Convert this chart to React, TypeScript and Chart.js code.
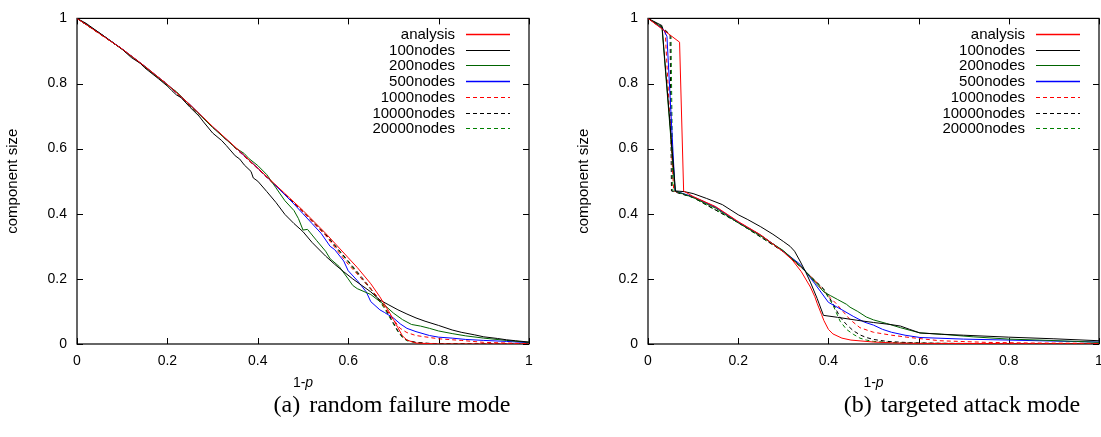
import React, { useEffect, useRef } from "react";
import { Chart, registerables } from "chart.js";

Chart.register(...registerables);

const FONT = '"Liberation Sans", Arial, Helvetica, sans-serif';

const xTickValues = [0, 0.2, 0.4, 0.6, 0.8, 1];
const yTickValues = [0, 0.2, 0.4, 0.6, 0.8, 1];
const xTitleMain = "1-";
const xTitleItalic = "p";
const yTitle = "component size";
const captionA = ["(a)", "random failure mode"];
const captionB = ["(b)", "targeted attack mode"];

const seriesNames = ["analysis", "100nodes", "200nodes", "500nodes", "1000nodes", "10000nodes", "20000nodes"];
const seriesColors = ["#ff0000", "#000000", "#006400", "#0000ff", "#ff0000", "#000000", "#008000"];
const seriesDashed = [false, false, false, false, true, true, true];

// (a) random failure mode
const randAnalysis = [[0,1],[0.05,0.953],[0.1,0.906],[0.15,0.853],[0.2,0.797],[0.25,0.735],[0.3,0.668],[0.35,0.605],[0.4,0.54],[0.45,0.475],[0.5,0.41],[0.55,0.34],[0.6,0.265],[0.62,0.235],[0.65,0.185],[0.67,0.145],[0.69,0.1],[0.7,0.075],[0.71,0.05],[0.72,0.025],[0.73,0.012],[0.75,0.003],[0.8,0],[1,0]];
const rand100 = [[0,1],[0.02,0.985],[0.05,0.955],[0.08,0.925],[0.1,0.905],[0.12,0.88],[0.14,0.862],[0.15,0.848],[0.18,0.815],[0.2,0.792],[0.21,0.778],[0.22,0.765],[0.23,0.757],[0.25,0.727],[0.27,0.7],[0.28,0.682],[0.3,0.648],[0.32,0.625],[0.33,0.61],[0.35,0.578],[0.36,0.568],[0.37,0.55],[0.385,0.53],[0.39,0.51],[0.4,0.5],[0.42,0.468],[0.44,0.435],[0.46,0.398],[0.48,0.37],[0.5,0.345],[0.52,0.312],[0.55,0.27],[0.57,0.245],[0.59,0.222],[0.61,0.2],[0.63,0.18],[0.65,0.16],[0.67,0.135],[0.69,0.12],[0.71,0.105],[0.73,0.092],[0.75,0.08],[0.77,0.07],[0.8,0.057],[0.83,0.043],[0.85,0.036],[0.88,0.028],[0.9,0.022],[0.93,0.017],[0.95,0.013],[0.97,0.01],[1,0.006]];
const rand200 = [[0,1],[0.05,0.955],[0.1,0.905],[0.15,0.852],[0.2,0.795],[0.22,0.775],[0.25,0.733],[0.3,0.665],[0.33,0.628],[0.35,0.603],[0.37,0.585],[0.38,0.57],[0.4,0.548],[0.42,0.52],[0.44,0.48],[0.46,0.44],[0.48,0.41],[0.49,0.385],[0.5,0.35],[0.51,0.352],[0.53,0.318],[0.55,0.285],[0.56,0.262],[0.58,0.238],[0.6,0.2],[0.61,0.18],[0.62,0.17],[0.65,0.152],[0.68,0.12],[0.7,0.095],[0.72,0.075],[0.74,0.06],[0.76,0.055],[0.78,0.048],[0.8,0.04],[0.83,0.032],[0.86,0.025],[0.9,0.018],[0.95,0.011],[1,0.005]];
const rand500 = [[0,1],[0.05,0.955],[0.1,0.906],[0.15,0.853],[0.2,0.797],[0.25,0.735],[0.3,0.667],[0.35,0.604],[0.4,0.54],[0.45,0.472],[0.48,0.43],[0.5,0.4],[0.52,0.37],[0.54,0.34],[0.56,0.3],[0.57,0.29],[0.59,0.255],[0.6,0.225],[0.62,0.195],[0.64,0.16],[0.65,0.13],[0.67,0.105],[0.68,0.097],[0.7,0.08],[0.715,0.062],[0.73,0.048],[0.75,0.038],[0.78,0.026],[0.8,0.021],[0.83,0.018],[0.86,0.014],[0.9,0.011],[0.95,0.008],[1,0.004]];
const rand1000 = [[0,1],[0.1,0.906],[0.2,0.797],[0.3,0.667],[0.4,0.538],[0.5,0.405],[0.55,0.333],[0.6,0.245],[0.63,0.2],[0.65,0.17],[0.68,0.115],[0.7,0.075],[0.715,0.048],[0.73,0.035],[0.75,0.026],[0.78,0.02],[0.8,0.016],[0.85,0.011],[0.9,0.005],[0.95,0.003],[1,0.001]];
const rand10000 = [[0,1],[0.1,0.906],[0.2,0.797],[0.3,0.667],[0.4,0.539],[0.5,0.407],[0.55,0.337],[0.6,0.255],[0.63,0.205],[0.65,0.17],[0.68,0.115],[0.7,0.065],[0.71,0.04],[0.72,0.022],[0.73,0.012],[0.75,0.005],[0.78,0.002],[0.8,0.001],[1,0]];
const rand20000 = [[0,1],[0.1,0.906],[0.2,0.797],[0.3,0.667],[0.4,0.539],[0.5,0.407],[0.55,0.337],[0.6,0.252],[0.63,0.2],[0.65,0.168],[0.68,0.11],[0.7,0.062],[0.71,0.038],[0.72,0.02],[0.73,0.01],[0.75,0.004],[0.78,0.001],[1,0]];

// (b) targeted attack mode
const tgtAnalysis = [[0,1],[0.07,0.927],[0.079,0.47],[0.1,0.453],[0.15,0.422],[0.2,0.376],[0.25,0.335],[0.3,0.283],[0.32,0.258],[0.34,0.222],[0.36,0.175],[0.37,0.145],[0.375,0.125],[0.385,0.09],[0.39,0.072],[0.4,0.045],[0.41,0.031],[0.43,0.018],[0.45,0.012],[0.5,0.006],[0.55,0.003],[0.6,0.002],[0.8,0.001],[1,0]];
const tgt100 = [[0,1],[0.031,0.978],[0.061,0.47],[0.08,0.468],[0.1,0.462],[0.13,0.447],[0.165,0.428],[0.2,0.397],[0.22,0.383],[0.25,0.36],[0.277,0.337],[0.3,0.315],[0.315,0.3],[0.325,0.285],[0.337,0.255],[0.35,0.22],[0.36,0.19],[0.375,0.14],[0.389,0.088],[0.42,0.082],[0.463,0.073],[0.5,0.066],[0.537,0.06],[0.56,0.055],[0.58,0.045],[0.603,0.034],[0.65,0.03],[0.7,0.027],[0.8,0.021],[0.9,0.016],[1,0.01]];
const tgt200 = [[0,1],[0.031,0.973],[0.06,0.47],[0.1,0.45],[0.15,0.417],[0.2,0.372],[0.25,0.332],[0.3,0.287],[0.344,0.232],[0.37,0.19],[0.39,0.16],[0.404,0.149],[0.42,0.137],[0.44,0.122],[0.448,0.113],[0.465,0.1],[0.484,0.083],[0.5,0.074],[0.529,0.063],[0.56,0.05],[0.603,0.034],[0.65,0.03],[0.721,0.022],[0.8,0.015],[0.869,0.012],[0.95,0.008],[1,0.005]];
const tgt500 = [[0,1],[0.034,0.967],[0.042,0.945],[0.06,0.47],[0.1,0.452],[0.15,0.42],[0.2,0.374],[0.25,0.334],[0.3,0.285],[0.337,0.245],[0.37,0.185],[0.4,0.128],[0.43,0.105],[0.455,0.085],[0.48,0.067],[0.5,0.058],[0.52,0.045],[0.54,0.036],[0.57,0.027],[0.603,0.02],[0.7,0.015],[0.8,0.012],[0.9,0.009],[1,0.006]];
const tgt1000 = [[0,1],[0.038,0.962],[0.057,0.47],[0.1,0.452],[0.15,0.42],[0.2,0.375],[0.25,0.334],[0.3,0.285],[0.34,0.235],[0.37,0.195],[0.389,0.163],[0.418,0.123],[0.448,0.075],[0.47,0.05],[0.5,0.036],[0.54,0.027],[0.574,0.021],[0.647,0.01],[0.75,0.005],[0.85,0.003],[1,0.002]];
const tgt10000 = [[0,1],[0.03,0.975],[0.049,0.95],[0.052,0.47],[0.1,0.45],[0.2,0.373],[0.3,0.284],[0.34,0.235],[0.37,0.195],[0.389,0.17],[0.41,0.125],[0.426,0.082],[0.44,0.06],[0.455,0.041],[0.47,0.028],[0.484,0.02],[0.5,0.014],[0.53,0.008],[0.58,0.004],[0.65,0.002],[0.8,0.001],[1,0]];
const tgt20000 = [[0,1],[0.03,0.975],[0.051,0.945],[0.055,0.47],[0.1,0.45],[0.2,0.373],[0.3,0.284],[0.34,0.235],[0.37,0.195],[0.389,0.168],[0.41,0.12],[0.426,0.07],[0.44,0.045],[0.455,0.03],[0.47,0.018],[0.484,0.012],[0.5,0.008],[0.55,0.004],[0.65,0.002],[1,0]];

const randomSeries = [randAnalysis, rand100, rand200, rand500, rand1000, rand10000, rand20000];
const targetSeries = [tgtAnalysis, tgt100, tgt200, tgt500, tgt1000, tgt10000, tgt20000];

const boxPlugin = {
  id: "gnuBox",
  beforeDatasetsDraw(chart: any) {
    const { ctx, chartArea: a, scales } = chart;
    ctx.save();
    ctx.strokeStyle = "#000";
    ctx.lineWidth = 1.2;
    ctx.strokeRect(a.left, a.top, a.right - a.left, a.bottom - a.top);
    ctx.lineWidth = 1;
    const tl = 6;
    ctx.beginPath();
    for (const v of xTickValues) {
      const px = Math.round(scales.x.getPixelForValue(v)) + 0.5;
      ctx.moveTo(px, a.bottom);
      ctx.lineTo(px, a.bottom - tl);
      ctx.moveTo(px, a.top);
      ctx.lineTo(px, a.top + tl);
    }
    for (const v of yTickValues) {
      const py = Math.round(scales.y.getPixelForValue(v)) + 0.5;
      ctx.moveTo(a.left, py);
      ctx.lineTo(a.left + tl, py);
      ctx.moveTo(a.right, py);
      ctx.lineTo(a.right - tl, py);
    }
    ctx.stroke();
    ctx.restore();
  },
  afterDraw(chart: any) {
    const { ctx, chartArea: a } = chart;
    ctx.save();
    // legend
    ctx.font = `15px ${FONT}`;
    ctx.textAlign = "right";
    ctx.textBaseline = "middle";
    seriesNames.forEach((name, i) => {
      const y = Math.round(a.top + 15.6 + i * 15.7) + 0.5;
      ctx.fillStyle = "#000";
      ctx.fillText(name, a.right - 74, y);
      ctx.strokeStyle = seriesColors[i];
      ctx.lineWidth = i === 0 || i === 3 ? 1.6 : 1.1;
      ctx.setLineDash(seriesDashed[i] ? [4, 3] : []);
      ctx.beginPath();
      ctx.moveTo(a.right - 63, y);
      ctx.lineTo(a.right - 19, y);
      ctx.stroke();
    });
    ctx.setLineDash([]);
    // x title "1-p"
    ctx.textAlign = "left";
    ctx.fillStyle = "#000";
    const f1 = `14px ${FONT}`;
    const f2 = `italic 14px ${FONT}`;
    ctx.font = f1;
    const w1 = ctx.measureText(xTitleMain).width;
    ctx.font = f2;
    const w2 = ctx.measureText(xTitleItalic).width;
    const cx = (a.left + a.right) / 2;
    const x0 = cx - (w1 + w2) / 2;
    ctx.font = f1;
    ctx.fillText(xTitleMain, x0, 383);
    ctx.font = f2;
    ctx.fillText(xTitleItalic, x0 + w1, 383);
    ctx.restore();
  },
};

function makeDatasets(series: number[][][]) {
  return series.map((pts, i) => ({
    label: seriesNames[i],
    data: pts.map(([x, y]) => ({ x, y })),
    borderColor: seriesColors[i],
    backgroundColor: seriesColors[i],
    borderWidth: 1,
    borderDash: seriesDashed[i] ? [4, 3] : [],
    pointRadius: 0,
    tension: 0,
    fill: false,
  }));
}

function Panel({ series, padRight }: { series: number[][][]; padRight: number }) {
  const ref = useRef<HTMLCanvasElement | null>(null);
  useEffect(() => {
    if (!ref.current) return;
    const tickFont = { size: 14, family: FONT };
    const chart = new Chart(ref.current, {
      type: "line",
      data: { datasets: makeDatasets(series) as any },
      plugins: [boxPlugin],
      options: {
        animation: false,
        responsive: false,
        devicePixelRatio: 1,
        layout: { padding: { top: 17, right: padRight, left: 0, bottom: 0 } },
        plugins: { legend: { display: false }, tooltip: { enabled: false } },
        scales: {
          x: {
            type: "linear",
            min: 0,
            max: 1,
            afterBuildTicks: (s: any) => { s.ticks = xTickValues.map((v) => ({ value: v })); },
            ticks: { font: tickFont, color: "#000", padding: 9, maxRotation: 0, autoSkip: false,
              callback: (v: any) => String(Number(v)) },
            grid: { display: false, drawTicks: false },
            border: { display: false },
            afterFit: (s: any) => { s.height = 56; },
          },
          y: {
            type: "linear",
            min: 0,
            max: 1,
            afterBuildTicks: (s: any) => { s.ticks = yTickValues.map((v) => ({ value: v })); },
            ticks: { font: tickFont, color: "#000", padding: 10,
              callback: (v: any) => String(Number(v)) },
            grid: { display: false, drawTicks: false },
            border: { display: false },
            title: { display: true, text: yTitle, color: "#000", font: { size: 15, family: FONT }, padding: { top: 4, bottom: 4 } },
            afterFit: (s: any) => { s.width = 77; },
          },
        },
      } as any,
    });
    return () => chart.destroy();
  }, []);
  return <canvas ref={ref} width={550} height={400} style={{ display: "block" }} />;
}

const captionStyle: React.CSSProperties = {
  position: "absolute",
  top: 391,
  fontFamily: '"Liberation Serif", "Times New Roman", serif',
  fontSize: 24,
  color: "#000",
  whiteSpace: "nowrap",
  transform: "translateX(-50%)",
};

export default function App() {
  return (
    <div style={{ position: "absolute", left: 0, top: 0, width: 1101, height: 437, overflow: "hidden", background: "#fff" }}>
      <div style={{ position: "absolute", left: 0, top: 0 }}>
        <Panel series={randomSeries} padRight={21} />
      </div>
      <div style={{ position: "absolute", left: 571, top: 0 }}>
        <Panel series={targetSeries} padRight={22} />
      </div>
      <div style={{ ...captionStyle, left: 392 }}>
        <span style={{ marginRight: 9 }}>{captionA[0]}</span>{captionA[1]}
      </div>
      <div style={{ ...captionStyle, left: 962 }}>
        <span style={{ marginRight: 9 }}>{captionB[0]}</span>{captionB[1]}
      </div>
    </div>
  );
}
